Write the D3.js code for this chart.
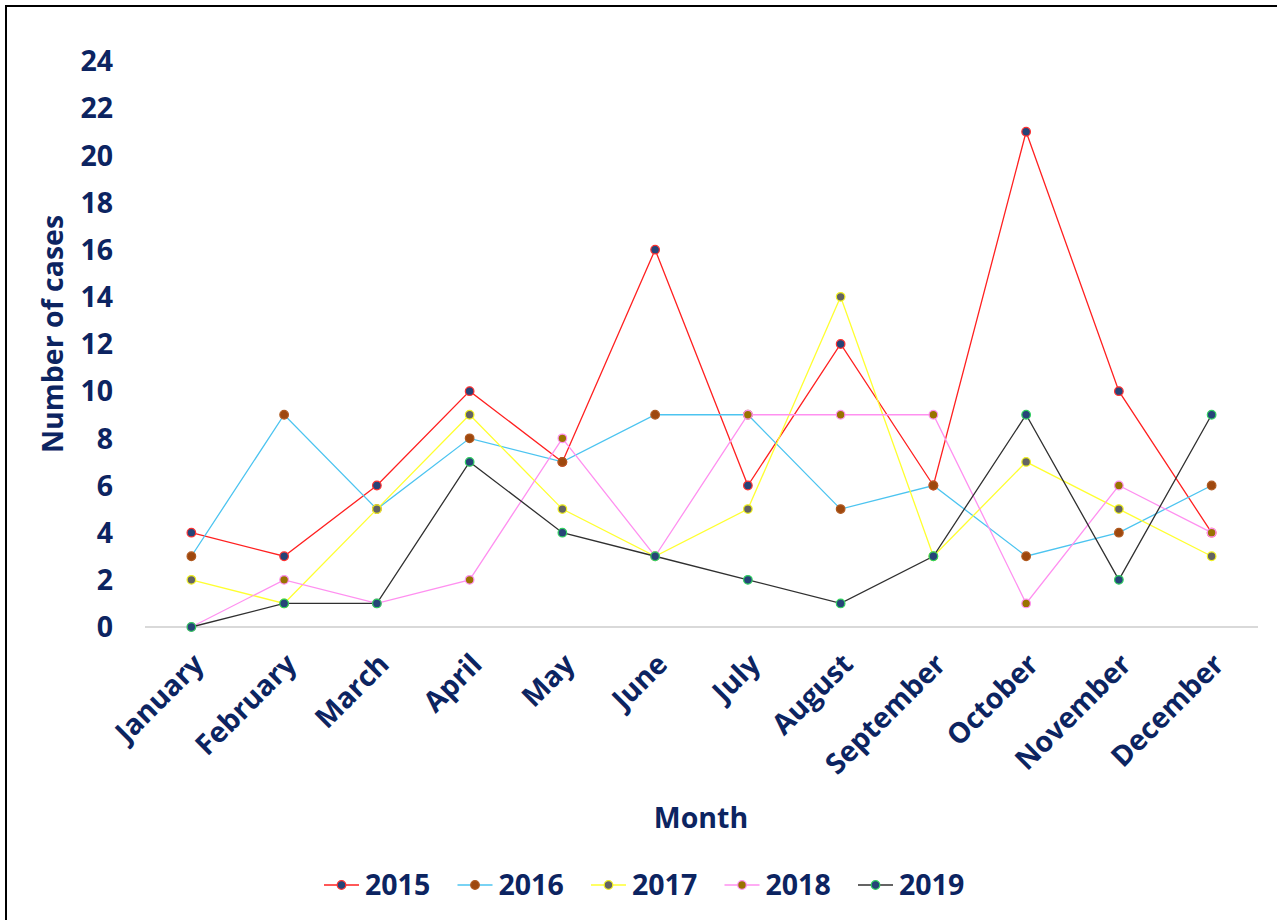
<!DOCTYPE html>
<html>
<head>
<meta charset="utf-8">
<style>
  body { margin: 0; background: #fff; }
  svg text { font-family: "Open Sans", sans-serif; font-weight: bold; fill: #0c2461; }
</style>
</head>
<body>
<svg width="1277" height="920"></svg>
<script src="https://d3js.org/d3.v7.min.js"></script>
<script>
var months = ["January", "February", "March", "April", "May", "June", "July",
              "August", "September", "October", "November", "December"];
var years = ["2015", "2016", "2017", "2018", "2019"];
var cases2015 = [4, 3, 6, 10, 7, 16, 6, 12, 6, 21, 10, 4];
var cases2016 = [3, 9, 5, 8, 7, 9, 9, 5, 6, 3, 4, 6];
var cases2017 = [2, 1, 5, 9, 5, 3, 5, 14, 3, 7, 5, 3];
var cases2018 = [0, 2, 1, 2, 8, 3, 9, 9, 9, 1, 6, 4];
var cases2019 = [0, 1, 1, 7, 4, 3, 2, 1, 3, 9, 2, 9];
var yTicks = [0, 2, 4, 6, 8, 10, 12, 14, 16, 18, 20, 22, 24];

var lineColors = ["#ff2020", "#4cc4f0", "#ffff30", "#ff90f0", "#303030"];
var markFill = ["#264478", "#9e480e", "#636363", "#997300", "#264478"];
var markStroke = ["#ff3030", "#b05a20", "#f0f020", "#ff90f0", "#30d060"];

var series = years.map(function(y, i) {
  return { year: y, values: [cases2015, cases2016, cases2017, cases2018, cases2019][i] };
});

var svg = d3.select("svg");
var fs = 28.5;

// outer frame
svg.append("rect")
    .attr("x", 6).attr("y", 6)
    .attr("width", 1300).attr("height", 950)
    .attr("fill", "none")
    .attr("stroke", "#000")
    .attr("stroke-width", 2);

var x = d3.scaleBand().domain(months).range([145, 1258]);
var y = d3.scaleLinear().domain([0, 24]).range([627, 61]);
function cx(m) { return x(m) + x.bandwidth() / 2; }

// baseline
svg.append("line")
    .attr("x1", 145).attr("x2", 1258)
    .attr("y1", y(0)).attr("y2", y(0))
    .attr("stroke", "#d9d9d9")
    .attr("stroke-width", 2);

// y ticks
svg.append("g").selectAll("text")
  .data(yTicks)
  .enter().append("text")
    .attr("x", 113)
    .attr("y", function(d) { return y(d); })
    .attr("dy", "0.36em")
    .attr("text-anchor", "end")
    .attr("font-size", fs)
    .text(function(d) { return d; });

// month labels
svg.append("g").selectAll("text")
  .data(months)
  .enter().append("text")
    .attr("text-anchor", "end")
    .attr("font-size", fs)
    .attr("transform", function(d) { return "translate(" + (cx(d) + 14) + ",666) rotate(-45)"; })
    .text(function(d) { return d; });

// axis titles
svg.append("text")
    .attr("transform", "translate(63,334) rotate(-90)")
    .attr("text-anchor", "middle")
    .attr("font-size", fs)
    .text("Number of cases");

svg.append("text")
    .attr("x", 701).attr("y", 828)
    .attr("text-anchor", "middle")
    .attr("font-size", fs)
    .text("Month");

// lines
var line = d3.line()
    .x(function(d, i) { return cx(months[i]); })
    .y(function(d) { return y(d); });

var sg = svg.append("g").selectAll("g")
  .data(series)
  .enter().append("g");

sg.append("path")
    .attr("fill", "none")
    .attr("stroke", function(d, i) { return lineColors[i]; })
    .attr("stroke-width", 1.3)
    .attr("d", function(d) { return line(d.values); });

sg.each(function(s, i) {
  d3.select(this).selectAll("circle")
    .data(s.values)
    .enter().append("circle")
      .attr("cx", function(d, j) { return cx(months[j]); })
      .attr("cy", function(d) { return y(d); })
      .attr("r", 4.3)
      .attr("fill", markFill[i])
      .attr("stroke", markStroke[i])
      .attr("stroke-width", 1.2);
});

// legend
var lg = svg.append("g").selectAll("g")
  .data(years)
  .enter().append("g")
    .attr("transform", function(d, i) { return "translate(" + (324 + i * 133.5) + ",885)"; });

lg.append("line")
    .attr("x1", 0).attr("x2", 35)
    .attr("stroke", function(d, i) { return lineColors[i]; })
    .attr("stroke-width", 1.5);
lg.append("circle")
    .attr("cx", 17.5).attr("r", 4.3)
    .attr("fill", function(d, i) { return markFill[i]; })
    .attr("stroke", function(d, i) { return markStroke[i]; })
    .attr("stroke-width", 1.2);
lg.append("text")
    .attr("x", 41)
    .attr("dy", "0.36em")
    .attr("font-size", fs)
    .text(function(d) { return d; });
</script>
</body>
</html>
